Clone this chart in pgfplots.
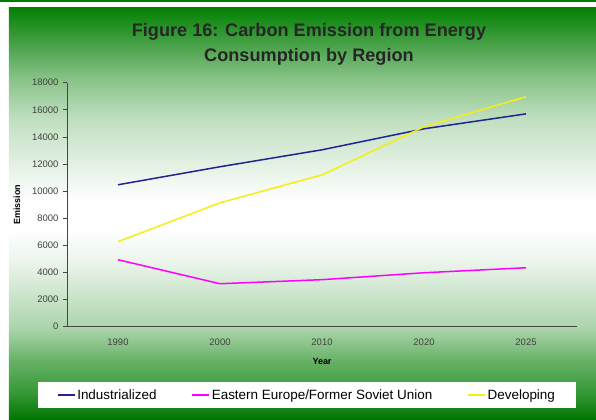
\documentclass[border=0pt]{standalone}
\usepackage{pgfplots}
\pgfplotsset{compat=1.18}
\usetikzlibrary{backgrounds,calc}
\usepackage{fontspec}
\setmainfont{Liberation Sans}
\definecolor{gdark}{RGB}{0,125,0}
\definecolor{gtop}{RGB}{0,128,0}
\definecolor{gbot}{RGB}{0,118,0}
\definecolor{indcol}{RGB}{35,35,145}
\definecolor{eecol}{RGB}{255,0,255}
\definecolor{devcol}{RGB}{245,238,20}
\definecolor{axgray}{RGB}{70,70,70}
\pgfdeclareverticalshading{bgshade}{100bp}{%
color(0bp)=(gbot);
color(25bp)=(gbot);
color(28bp)=(gdark!80!white);
color(32bp)=(gdark!60!white);
color(36bp)=(gdark!33!white);
color(39.5bp)=(gdark!22!white);
color(44bp)=(gdark!8!white);
color(48bp)=(white);
color(51.5bp)=(white);
color(54bp)=(gdark!6!white);
color(61.5bp)=(gdark!25!white);
color(66bp)=(gdark!45!white);
color(71bp)=(gdark!75!white);
color(75bp)=(gtop);
color(100bp)=(gtop)}
\pgfplotstableread{
x ind ee dev
0 10470 4940 6270
1 11800 3170 9140
2 13050 3470 11200
3 14600 3980 14750
4 15700 4350 16960
}\datatable
\begin{document}
\begin{tikzpicture}[x=1bp,y=1bp]
\begin{axis}[
  name=ax,
  scale only axis, width=510bp, height=244bp,
  xmin=-0.5, xmax=4.5, ymin=0, ymax=18000,
  axis lines=left, axis line style={-, axgray, line width=0.9bp},
  xtick={0,1,2,3,4}, xticklabels={1990,2000,2010,2020,2025},
  extra x ticks={-0.5,0.5,1.5,2.5,3.5,4.5}, extra x tick labels={},
  extra x tick style={major tick length=4bp, tick style={axgray, line width=0.7bp}, tick align=outside},
  ytick={0,2000,...,18000},
  scaled y ticks=false,
  tick align=outside,
  x tick style={draw=none},
  y tick style={axgray, line width=0.7bp},
  major tick length=4bp,
  /pgf/number format/assume math mode=true,
  /pgf/number format/1000 sep={},
  tick label style={font=\fontsize{9.5}{11}\selectfont, text=black!75},
  xticklabel style={yshift=-5bp},
  yticklabel style={xshift=-1bp},
  xlabel={Year}, ylabel={Emission},
  xlabel style={font=\bfseries\fontsize{9}{10}\selectfont, at={(axis description cs:0.5,0)}, anchor=center, yshift=-35bp},
  ylabel style={font=\bfseries\fontsize{9}{10}\selectfont, at={(axis description cs:-0.098,0.5)}, anchor=center},
  legend style={at={(axis description cs:0.4705,-0.28)}, anchor=center, draw=none, fill=white,
    font=\fontsize{13.5}{15}\selectfont, inner xsep=19bp, inner ysep=6bp,
    nodes={inner xsep=2bp, inner ysep=1bp}},
  legend columns=3,
  legend cell align=left,
  legend image code/.code={\draw[#1, line width=1.3bp] (0bp,0bp) -- (17bp,0bp);},
  legend style={/tikz/every even column/.append style={column sep=33bp}},
  clip=false,
]
\addplot[indcol, line width=1.5bp] table[x=x, y=ind] {\datatable};
\addlegendentry{Industrialized}
\addplot[eecol, line width=1.5bp] table[x=x, y=ee] {\datatable};
\addlegendentry{Eastern Europe/Former Soviet Union}
\addplot[devcol, line width=1.5bp] table[x=x, y=dev] {\datatable};
\addlegendentry{Developing}
\coordinate (O) at (axis cs:-0.5,0);
\end{axis}
\coordinate (P) at ($(O)+(-67,-92.3)$);
\begin{scope}[on background layer]
\fill[white] (P) rectangle ++(596,419);
\fill[gdark] ($(P)+(0,417)$) rectangle ++(596,2);
\shade[shading=bgshade] ($(P)+(9,0)$) rectangle ++(587,412);
\end{scope}
\node[font=\bfseries\fontsize{18.2}{20}\selectfont, text=black!85] at ($(P)+(309,387)$) {Figure 16: Carbon Emission from Energy};
\node[font=\bfseries\fontsize{18.2}{20}\selectfont, text=black!85] at ($(P)+(309,362)$) {Consumption by Region};
\pgfresetboundingbox
\path (P) rectangle ++(596,419);
\end{tikzpicture}
\end{document}
